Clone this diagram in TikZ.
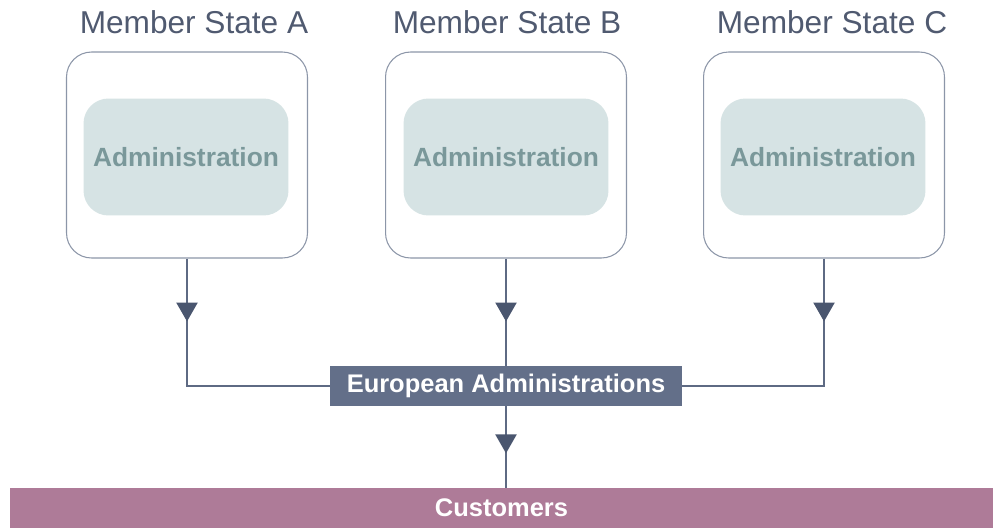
\documentclass[tikz,border=0pt]{standalone}
\usepackage{fontspec}
\setmainfont{Liberation Sans}
\usetikzlibrary{arrows.meta,decorations.markings}
\definecolor{linec}{HTML}{5E6A83}
\definecolor{tipc}{HTML}{4A566F}
\definecolor{eurc}{HTML}{636F89}
\definecolor{custc}{HTML}{AE7B98}
\definecolor{innerc}{HTML}{D6E3E4}
\definecolor{innertxt}{HTML}{7A989A}
\definecolor{outerc}{HTML}{8C96A8}
\definecolor{titlec}{HTML}{505A70}
\tikzset{
  outerbox/.style={draw=outerc, line width=0.6pt, rounded corners=0.5cm, fill=white,
    minimum width=4.82cm, minimum height=4.12cm, inner sep=0pt},
  innerbox/.style={fill=innerc, rounded corners=0.5cm, minimum width=4.1cm,
    minimum height=2.34cm, inner sep=0pt, text=innertxt,
    font=\fontsize{15}{16}\selectfont\bfseries},
  title/.style={text=titlec, font=\fontsize{18}{20}\selectfont, inner sep=0pt},
  eurbox/.style={fill=eurc, text=white, minimum width=7.04cm, minimum height=0.8cm,
    inner sep=0pt, font=\fontsize{14.5}{16}\selectfont\bfseries},
  custbar/.style={fill=custc, text=white, minimum width=19.66cm, minimum height=0.8cm,
    inner sep=0pt, font=\fontsize{14.5}{16}\selectfont\bfseries},
  conn/.style={draw=linec, line width=1.4pt},
  tipat/.style={postaction=decorate, decoration={markings,
    mark=at position #1 with {\arrow[tipc]{Triangle[width=0.42cm,length=0.38cm]}}}}
}
\begin{document}
\begin{tikzpicture}[x=0.02cm,y=-0.02cm]
\useasboundingbox (0,0) rectangle (993,528);
% member state boxes
\node[outerbox] (A) at (187,155) {};
\node[outerbox] (B) at (506,155) {};
\node[outerbox] (C) at (824,155) {};
\node[innerbox] (IA) at (186,157) {Administration};
\node[innerbox] (IB) at (506,157) {Administration};
\node[innerbox] (IC) at (823,157) {Administration};
\node[title] (TA) at (194,22) {Member State A};
\node[title] (TB) at (507,22) {Member State B};
\node[title] (TC) at (832,22) {Member State C};
% central boxes
\node[eurbox] (E) at (506,386) {European Administrations};
\node[custbar] (K) at (501.5,508) {Customers};
% connectors
\draw[conn, tipat=1.26cm] (A.south) |- (E.west);
\draw[conn, tipat=1.26cm] (C.south) |- (E.east);
\draw[conn, tipat=1.26cm] (B.south) -- (E.north);
\draw[conn, tipat=0.94cm] (E.south) -- (E.south |- K.north);
\end{tikzpicture}
\end{document}
